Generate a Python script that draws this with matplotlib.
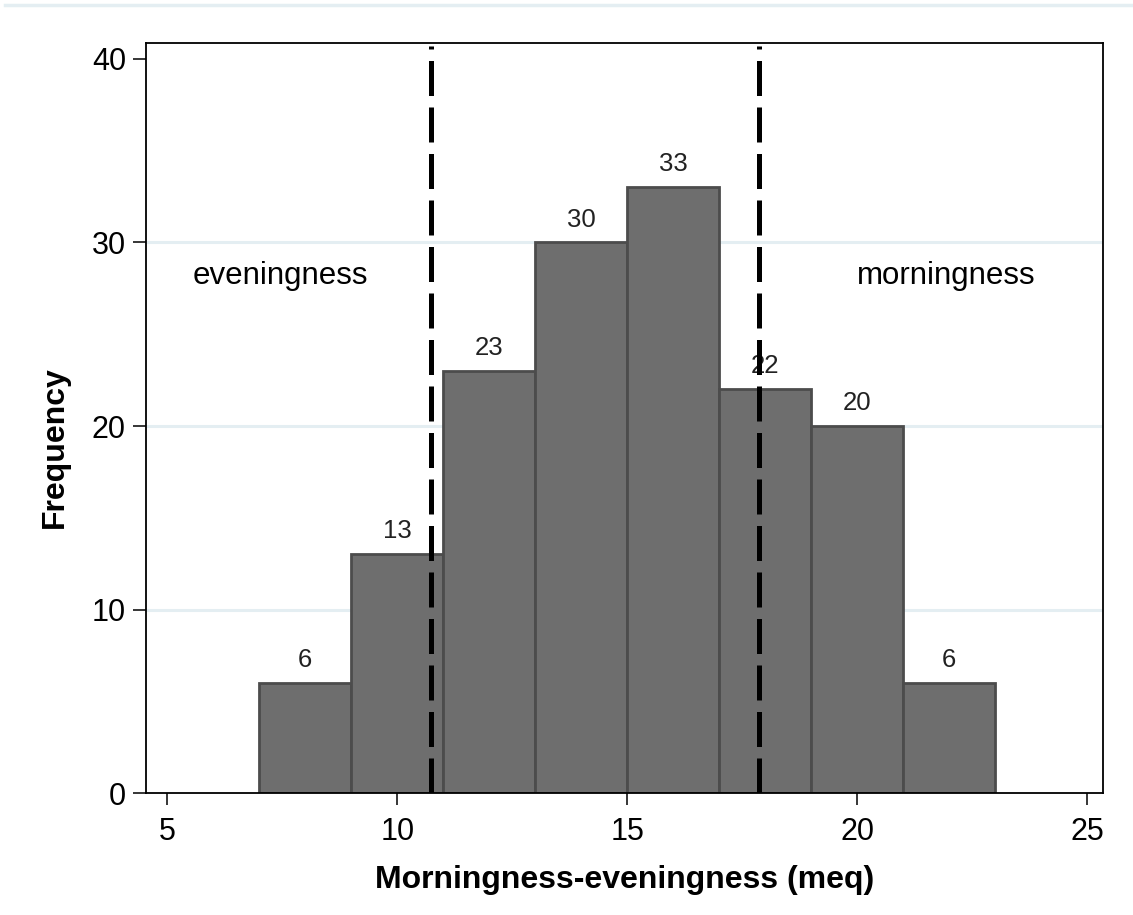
import matplotlib
matplotlib.use("Agg")
import matplotlib.pyplot as plt
from matplotlib.lines import Line2D

plt.rcParams['font.family'] = ['Liberation Sans', 'DejaVu Sans']

# histogram of meq scores (bin width 2)
bin_left = [7, 9, 11, 13, 15, 17, 19, 21]
counts = [6, 13, 23, 30, 33, 22, 20, 6]
bin_width = 2

# cut-offs for evening / morning types
cutoffs = [10.73, 17.86]

xticks = [5, 10, 15, 20, 25]
yticks = [0, 10, 20, 30, 40]

fig = plt.figure(figsize=(11.33, 9.15), dpi=100)
ax = fig.add_axes([0.1289, 0.1333, 0.9735 - 0.1289, 0.953 - 0.1333])

grid_col = '#e4eef2'
for y in yticks[1:-1]:
    ax.axhline(y, color=grid_col, lw=2.2, zorder=0)

ax.bar(bin_left, counts, width=bin_width, align='edge',
       color='#6e6e6e', edgecolor='#4c4c4c', linewidth=2.0, zorder=2)

for x, c in zip(bin_left, counts):
    ax.annotate(str(c), (x + bin_width / 2, c), xytext=(0, 11.5),
                textcoords='offset points', ha='center', va='baseline',
                fontsize=18.5, color='#222222', zorder=3)

for c in cutoffs:
    ax.plot([c, c], [0, 40.7], color='black', lw=3.6,
            dashes=(7, 2.3), zorder=4, solid_capstyle='butt',
            dash_capstyle='butt')

ax.text(7.45, 28.2, 'eveningness', ha='center', va='center', fontsize=22.5)
ax.text(21.93, 28.2, 'morningness', ha='center', va='center', fontsize=22.5)

ax.set_xlim(4.537, 25.34)
ax.set_ylim(0, 40.87)
ax.set_xticks(xticks)
ax.set_yticks(yticks)
ax.tick_params(axis='x', length=8.5, width=1.1, pad=9, labelsize=22)
ax.tick_params(axis='y', length=9.5, width=1.1, pad=5, labelsize=22)

for s in ax.spines.values():
    s.set_linewidth(1.3)

ax.set_xlabel('Morningness-eveningness (meq)', fontsize=23,
              fontweight='bold', labelpad=13)
ax.set_ylabel('Frequency', fontsize=23, fontweight='bold')
ax.yaxis.set_label_coords(-0.080, 0.461)

# thin separator rule across the top
fig.add_artist(Line2D([5 / 1133, 1.0], [1 - 5 / 915, 1 - 5 / 915],
                      transform=fig.transFigure, color=grid_col, lw=2.5))

fig.savefig('out.png', dpi=100)
